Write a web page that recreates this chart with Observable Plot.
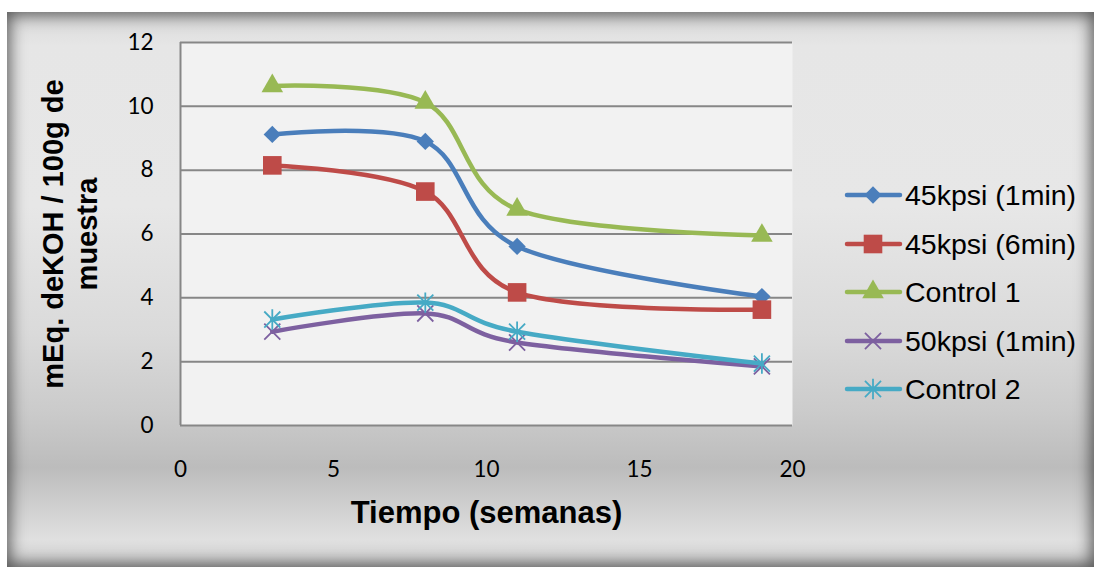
<!DOCTYPE html>
<html>
<head>
<meta charset="utf-8">
<script src="https://cdn.jsdelivr.net/npm/d3@7"></script>
<script src="https://cdn.jsdelivr.net/npm/@observablehq/plot@0.6"></script>
<style>
  html, body { margin: 0; padding: 0; background: #ffffff; }
  #wrap { position: relative; width: 1094px; height: 567px; overflow: hidden; background: #fff; }
  #panel {
    position: absolute; left: 7px; top: 12px; width: 1087px; height: 555px;
    background: linear-gradient(to bottom, #d8d8d8 0%, #e6e6e6 6%, #e7e7e7 35%, #dadada 58%, #cbcbcb 72%, #bcbcbc 82%, #cfcfcf 89%, #e0e0e0 95%, #cfcfcf 100%);
    box-shadow: inset 0 0 16px 3px rgba(0,0,0,0.6);
  }
  #chart { position: absolute; left: 0; top: 0; }
  #legend { position: absolute; left: 0; top: 0; pointer-events: none; }
</style>
</head>
<body>
<div id="wrap">
  <div id="panel"></div>
  <div id="chart"></div>
  <svg id="legend" width="1094" height="567"></svg>
</div>
<script>
// ---- data ----
const weeks = [3, 8, 11, 19];
const seriesNames = ["45kpsi (1min)", "45kpsi (6min)", "Control 1", "50kpsi (1min)", "Control 2"];
const s45kpsi1min = [9.12, 8.90, 5.61, 4.04];
const s45kpsi6min = [8.15, 7.33, 4.17, 3.63];
const control1 = [10.64, 10.12, 6.77, 5.95];
const s50kpsi1min = [2.94, 3.51, 2.60, 1.85];
const control2 = [3.32, 3.85, 2.94, 1.94];
const seriesValues = [s45kpsi1min, s45kpsi6min, control1, s50kpsi1min, control2];
const seriesColors = ["#4A7EBB", "#BE4B48", "#98B954", "#7D60A0", "#46AAC5"];
const yTicks = [0, 2, 4, 6, 8, 10, 12];
const xTicks = [0, 5, 10, 15, 20];
const xTitle = "Tiempo (semanas)";
const yTitle = "mEq. deKOH / 100g de\nmuestra";

// ---- custom symbols ----
const excelAsterisk = {
  draw(ctx, size) {
    const r = Math.sqrt(size / Math.PI);
    const h = r * 1.1, v = r * 1.4;
    ctx.moveTo(-h, -h); ctx.lineTo(h, h);
    ctx.moveTo(-h, h); ctx.lineTo(h, -h);
    ctx.moveTo(0, -v); ctx.lineTo(0, v);
  }
};
const excelTimes = {
  draw(ctx, size) {
    const r = Math.sqrt(size / Math.PI) * 1.1;
    ctx.moveTo(-r, -r); ctx.lineTo(r, r);
    ctx.moveTo(-r, r); ctx.lineTo(r, -r);
  }
};
const symbols = [
  {symbol: "diamond2", r: 7.8, filled: true},
  {symbol: "square", r: 10.5, filled: true},
  {symbol: "triangle", r: 8.0, filled: true},
  {symbol: excelTimes, r: 7.3, filled: false},
  {symbol: excelAsterisk, r: 7.3, filled: false}
];

const rows = [];
seriesNames.forEach((name, i) => {
  weeks.forEach((w, j) => rows.push({series: name, idx: i, x: w, y: seriesValues[i][j]}));
});

const curve = d3.curveCatmullRom.alpha(0);

const marks = [
  Plot.frame({fill: "#f2f2f2", stroke: "none"}),
  Plot.ruleY(yTicks.filter(d => d > 0), {stroke: "#878787", strokeWidth: 2}),
  Plot.ruleY([0], {stroke: "#878787", strokeWidth: 2}),
  Plot.ruleX([0], {stroke: "#878787", strokeWidth: 2}),
  Plot.axisY({ticks: yTicks, tickSize: 0, tickPadding: 27, label: null, fontSize: 22.5}),
  Plot.axisX({ticks: xTicks, tickSize: 0, tickPadding: 36, label: null, fontSize: 22.5})
];
seriesNames.forEach((name, i) => {
  const data = rows.filter(d => d.idx === i);
  marks.push(Plot.line(data, {x: "x", y: "y", stroke: seriesColors[i], strokeWidth: 4.5, curve}));
  const s = symbols[i];
  marks.push(Plot.dot(data, {
    x: "x", y: "y", symbol: s.symbol, r: s.r,
    fill: s.filled ? seriesColors[i] : "none",
    stroke: seriesColors[i], strokeWidth: s.filled ? 0 : 1.8
  }));
});
marks.push(Plot.text([xTitle], {
  frameAnchor: "bottom", text: d => d, dy: 97, fontSize: 31, fontWeight: "bold",
  fontFamily: "Liberation Sans, Arial, sans-serif", fill: "#000"
}));
marks.push(Plot.text([yTitle], {
  frameAnchor: "left", text: d => d, rotate: -90, dx: -111, fontSize: 29, lineHeight: 1.17,
  textAnchor: "middle", lineAnchor: "middle",
  fontWeight: "bold", fontFamily: "Liberation Sans, Arial, sans-serif", fill: "#000"
}));

const chart = Plot.plot({
  width: 1094,
  height: 567,
  marginLeft: 180,
  marginRight: 302,
  marginTop: 42,
  marginBottom: 142,
  x: {domain: [0, 20]},
  y: {domain: [0, 12]},
  style: {background: "transparent", fontFamily: "Lato, sans-serif", color: "#000", overflow: "visible"},
  marks
});
document.getElementById("chart").appendChild(chart);

// ---- legend ----
const legend = d3.select("#legend");
const legendY = [195, 244, 292, 341, 389];
const symMap = {diamond2: d3.symbolDiamond2, square: d3.symbolSquare, triangle: d3.symbolTriangle};
seriesNames.forEach((name, i) => {
  const g = legend.append("g").attr("transform", `translate(0,${legendY[i]})`);
  g.append("line").attr("x1", 847).attr("x2", 900).attr("y1", 0).attr("y2", 0)
    .attr("stroke", seriesColors[i]).attr("stroke-width", 4.5).attr("stroke-linecap", "round");
  const s = symbols[i];
  const type = typeof s.symbol === "string" ? symMap[s.symbol] : s.symbol;
  g.append("path").attr("transform", "translate(873,0)")
    .attr("d", d3.symbol(type, Math.PI * s.r * s.r)())
    .attr("fill", s.filled ? seriesColors[i] : "none")
    .attr("stroke", seriesColors[i]).attr("stroke-width", s.filled ? 0 : 1.8);
  g.append("text").attr("x", 905).attr("y", 0).attr("dy", "0.35em")
    .attr("font-family", "Liberation Sans, Arial, sans-serif").attr("font-size", 28.5)
    .attr("fill", "#000").text(name);
});
</script>
</body>
</html>
